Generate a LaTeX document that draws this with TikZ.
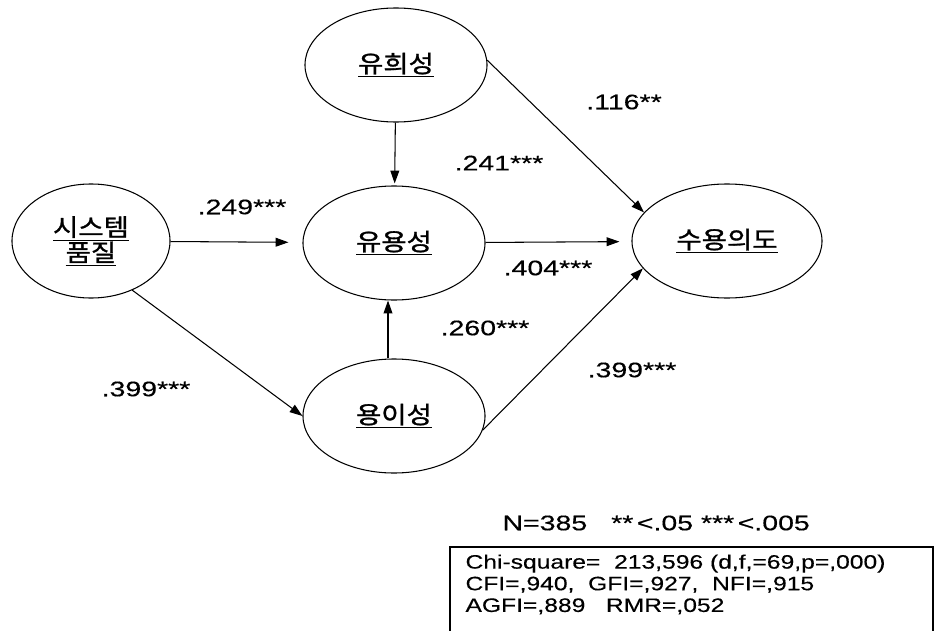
\documentclass[tikz,border=0pt]{standalone}
\usepackage{fontspec}
\setmainfont[FakeStretch=1.35, FakeBold=0.4]{Liberation Sans}
\newfontfamily\boxfont[FakeStretch=1.27, FakeBold=0.3]{Liberation Sans}
\newfontfamily\hangul[FakeStretch=1.15, FakeBold=1.2]{Noto Sans CJK KR}
\usetikzlibrary{shapes.geometric,arrows.meta}

\begin{document}
\begin{tikzpicture}[x=0.025cm, y=-0.025cm, line width=0.75pt,
  factor/.style={ellipse, draw=black, minimum width=4.55cm, minimum height=2.85cm,
    inner sep=0pt, align=center, font=\fontsize{17}{18}\selectfont\hangul},
  path/.style={-{Triangle[length=0.32cm,width=0.22cm]}},
  coef/.style={font=\fontsize{15}{16}\selectfont},
  fitline/.style={font=\fontsize{13.8}{15.4}\selectfont\boxfont, align=left, inner sep=0pt}]

\clip (0,0) rectangle (936,631);

\node[factor] (fun) at (396,65) {\underline{유희성}};
\node[factor] (useful) at (394,243) {\underline{유용성}};
\node[factor] (ease) at (394,416) {\underline{용이성}};
\node[factor, minimum width=3.95cm] (sys) at (91,241) {\underline{시스템}\\\underline{품질}};
\node[factor, minimum width=4.75cm] (accept) at (727,241) {\underline{수용의도}};

\draw[path, shorten >=0.35cm] (sys) -- (useful);
\draw[path, shorten >=0.05cm] (fun) -- (useful);
\draw[path] ([xshift=-0.15cm]ease.north) -- ([xshift=-0.15cm]useful.south);
\draw[path, shorten >=0.3cm] (useful) -- (accept);
\draw[path] (fun.3) -- (accept.161);
\draw[path] (sys.-50) -- (ease.west);
\draw[path] (ease.-9) -- (accept.198);

\node[coef] (c116) at (624,102) {.116**};
\node[coef] (c241) at (499,163) {.241***};
\node[coef] (c249) at (242,207) {.249***};
\node[coef] (c404) at (548,268) {.404***};
\node[coef] (c260) at (485,328) {.260***};
\node[coef] (c399a) at (146,389) {.399***};
\node[coef] (c399b) at (632,370) {.399***};

\node[coef, anchor=west, inner sep=0pt] (note) at (502,523)
  {N=385\hspace{0.6cm}**\,<.05 ***\,<.005};
\draw (450,547) rectangle (933,660);
\node[fitline, anchor=north west] (fit) at (465,554)
  {Chi-square=\ \ 213,596 (d,f,=69,p=,000)\\
   CFI=,940,\ \ GFI=,927,\ \ NFI=,915\\
   AGFI=,889\ \ \ RMR=,052};
\end{tikzpicture}
\end{document}
